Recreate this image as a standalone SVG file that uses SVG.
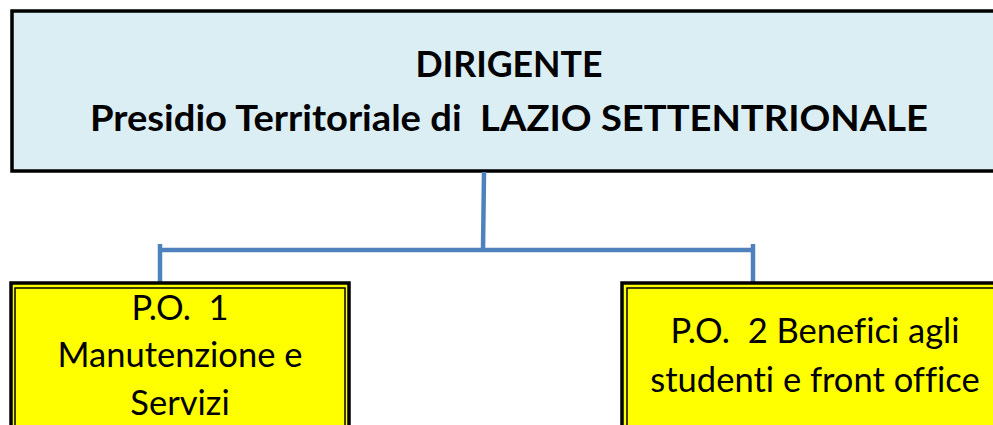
<svg xmlns="http://www.w3.org/2000/svg" width="993" height="425" viewBox="0 0 993 425">
<style>
.top{fill:#DBEEF4;stroke:#000;stroke-width:3.5}
.po{fill:#FFFF00;stroke:#000;stroke-width:3.5}
.poin{fill:none;stroke:#000;stroke-width:1.5}
.conn{stroke:#4F81BD;stroke-width:4.5;fill:none;stroke-linecap:butt}
text{font-variant-ligatures:none;font-feature-settings:"liga" 0,"clig" 0,"dlig" 0}
.tb{font-family:Lato,"Liberation Sans",sans-serif;font-weight:bold;font-size:36px;fill:#000;text-anchor:middle}
.tr{font-family:Lato,"Liberation Sans",sans-serif;font-size:34.5px;fill:#000;text-anchor:middle}
</style>
<rect width="993" height="425" fill="#fff"/>
<g id="dirigente">
<rect class="top" x="12" y="11" width="1000" height="160"/>
<text class="tb" x="509" y="77" textLength="187" lengthAdjust="spacingAndGlyphs">DIRIGENTE</text>
<text class="tb" x="509" y="131" textLength="838" lengthAdjust="spacingAndGlyphs" xml:space="preserve">Presidio Territoriale di  LAZIO SETTENTRIONALE</text>
</g>
<g id="connectors">
<line class="conn" x1="484" y1="172" x2="483" y2="250"/>
<line class="conn" x1="158" y1="250" x2="755" y2="250"/>
<line class="conn" x1="160" y1="244" x2="160" y2="282"/>
<line class="conn" x1="753" y1="244" x2="753" y2="282"/>
</g>
<g id="po1">
<rect class="po" x="11" y="283" width="338" height="160"/>
<rect class="poin" x="15" y="288" width="330" height="150"/>
<text class="tr" x="180" y="320" xml:space="preserve">P.O.  1</text>
<text class="tr" x="180" y="367">Manutenzione e</text>
<text class="tr" x="180" y="415">Servizi</text>
</g>
<g id="po2">
<rect class="po" x="622" y="283" width="400" height="160"/>
<rect class="poin" x="627" y="288" width="390" height="150"/>
<text class="tr" x="815" y="343" xml:space="preserve">P.O.  2 Benefici agli</text>
<text class="tr" x="815" y="392">studenti e front office</text>
</g>
</svg>
